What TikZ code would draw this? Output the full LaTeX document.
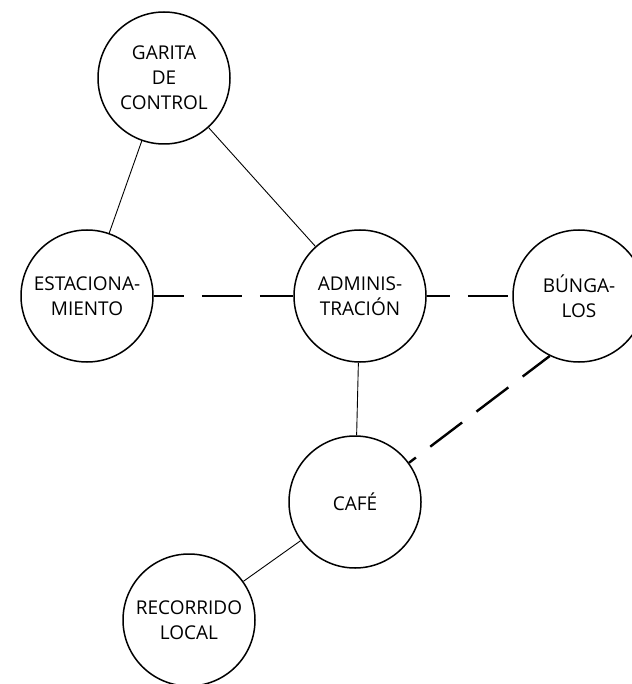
\documentclass[tikz,border=0pt]{standalone}
\usepackage{fontspec}
\setmainfont{Open Sans}
\usepackage{tikz}

\tikzset{
  place/.style={draw, circle, line width=1.5pt, minimum size=132pt, inner sep=0pt,
                align=center, font=\fontsize{19}{25}\selectfont},
  path/.style={line width=0.9pt},
  walk/.style={line width=2.4pt, dash pattern=on 40pt off 18pt}
}

\begin{document}
\begin{tikzpicture}[x=1pt, y=-1pt]
        \useasboundingbox (0,0) rectangle (631,684);

        % Places
        \node[place] (garita) at (164,78) {GARITA\\DE\\CONTROL};
        \node[place] (estac) at (87,296) {ESTACIONA-\\MIENTO};
        \node[place] (admin) at (360,296) {ADMINIS-\\TRACIÓN};
        \node[place] (bung) at (579,296) {BÚNGA-\\LOS};
        \node[place] (cafe) at (355,502) {CAFÉ};
        \node[place] (recorrido) at (189,620) {RECORRIDO\\LOCAL};

        % Solid links
        \draw[path] (garita) -- (estac);
        \draw[path] (garita) -- (admin);
        \draw[path] (admin) -- (cafe);
        \draw[path] (cafe) -- (recorrido);

        % Dashed links
        \draw[walk, dash phase=10pt] (estac) -- (admin);
        \draw[walk, dash phase=17pt] (admin) -- (bung);
        \draw[walk, dash phase=6pt] (bung.244) -- (cafe.36);
    \end{tikzpicture}
\end{document}
